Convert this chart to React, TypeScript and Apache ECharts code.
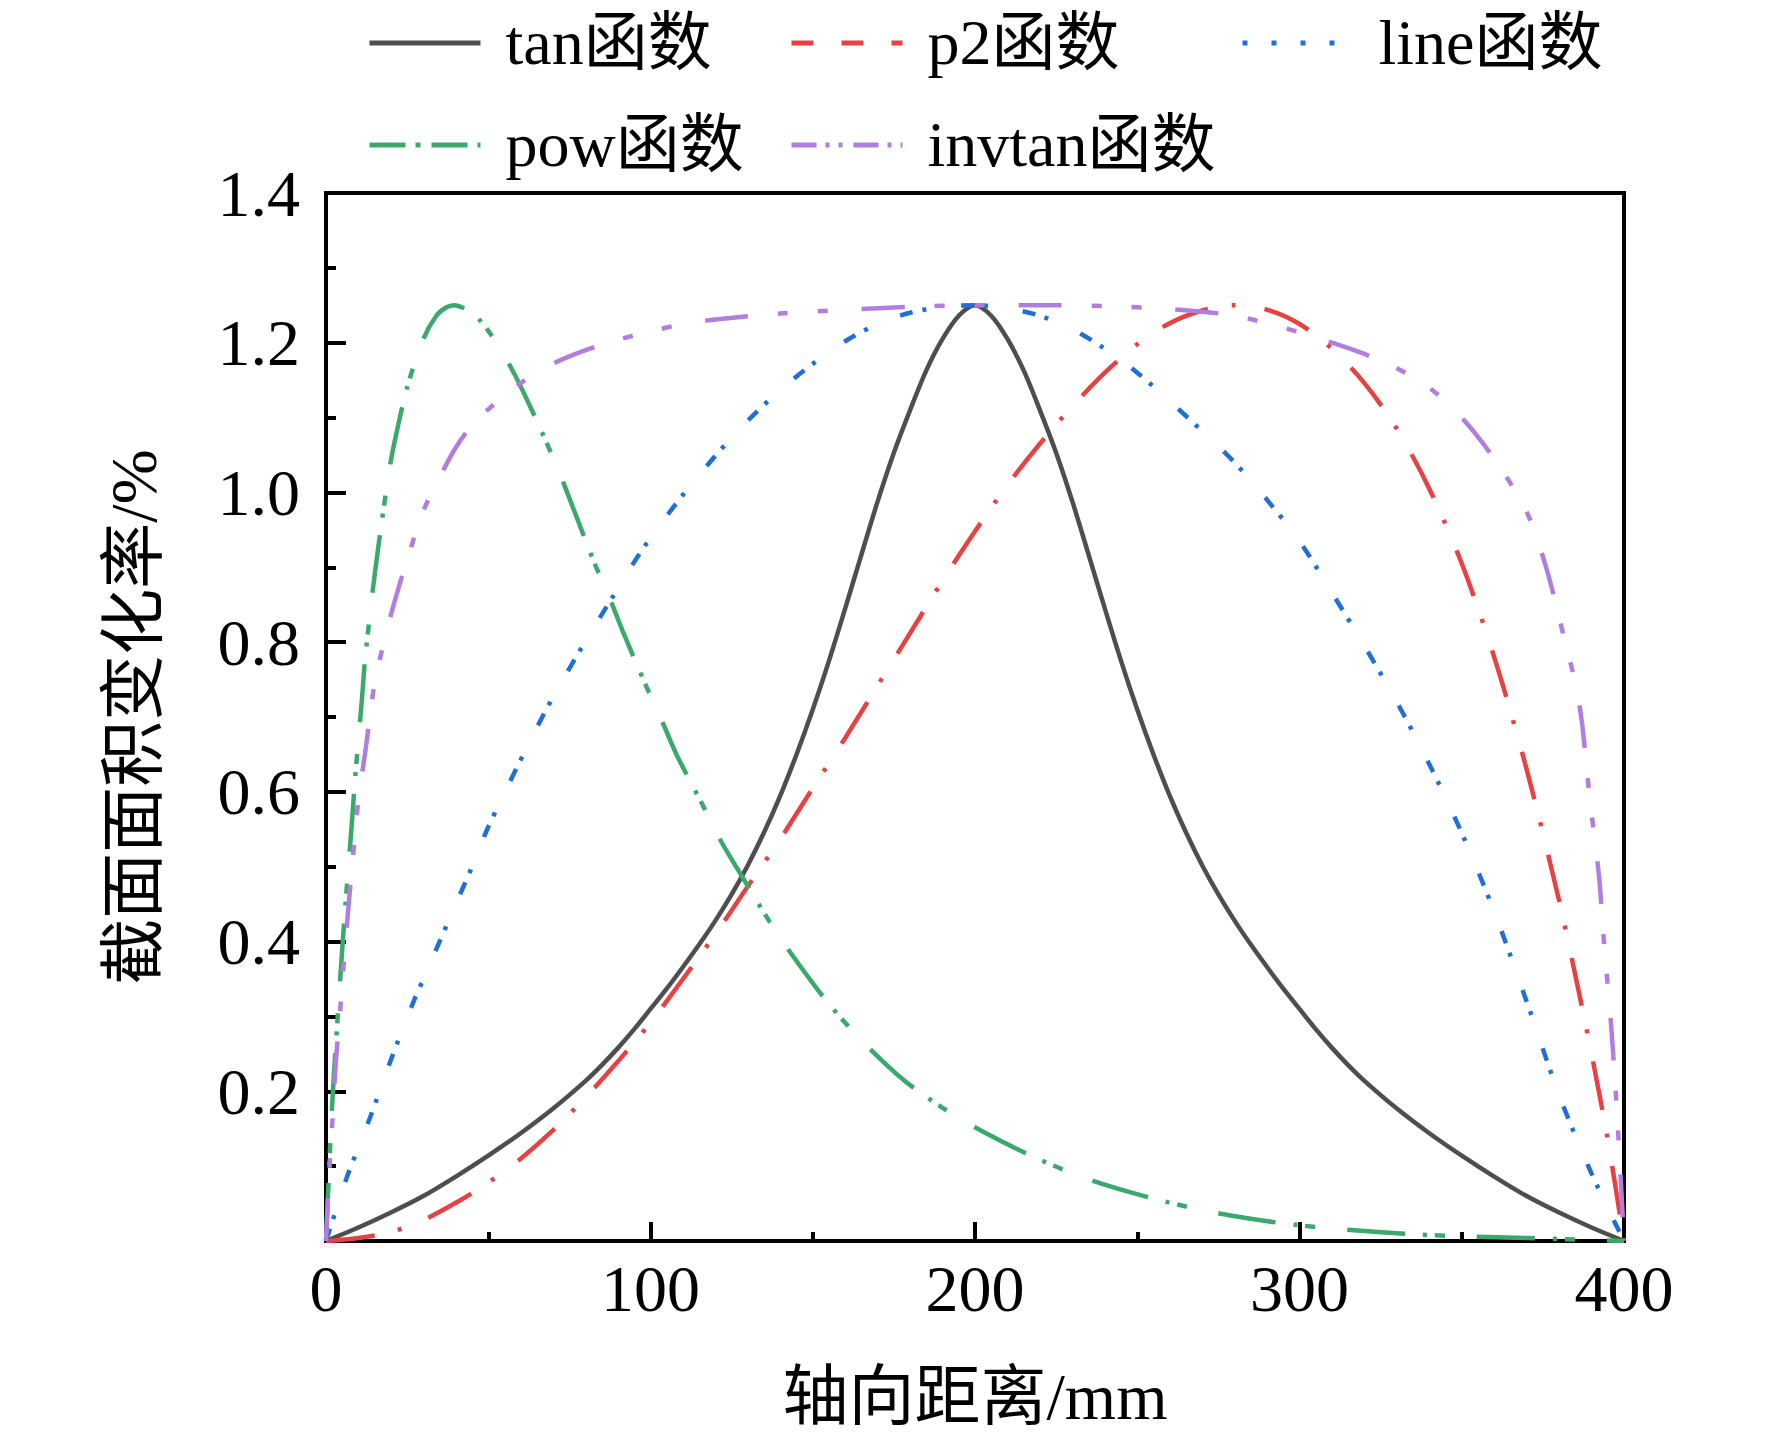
import React, { useEffect, useRef } from "react";
import * as echarts from "echarts";

const seriesNames = ["tan函数", "p2函数", "line函数", "pow函数", "invtan函数"];
const seriesColors = ["#4e4e4e", "#e84141", "#1f6fd6", "#3aa96b", "#b17ddf"];

const xTicks = [0, 100, 200, 300, 400];
const yTicks = [0, 0.2, 0.4, 0.6, 0.8, 1.0, 1.2, 1.4];

const tanData: [number, number][] = [
  [0, 0], [10, 0.018], [20, 0.038], [30, 0.06], [40, 0.086], [50, 0.114], [60, 0.144], [70, 0.177],
  [80, 0.214], [85, 0.235], [90, 0.258], [95, 0.283], [100, 0.31], [105, 0.337], [110, 0.366],
  [115, 0.396], [120, 0.428], [125, 0.463], [130, 0.502], [135, 0.546], [140, 0.595], [145, 0.65],
  [150, 0.71], [155, 0.775], [160, 0.845], [165, 0.917], [170, 0.988], [175, 1.053], [180, 1.11],
  [185, 1.163], [190, 1.205], [195, 1.236], [200, 1.25], [205, 1.236], [210, 1.205], [215, 1.163],
  [220, 1.11], [225, 1.053], [230, 0.988], [235, 0.917], [240, 0.845], [245, 0.775], [250, 0.71],
  [255, 0.65], [260, 0.595], [265, 0.546], [270, 0.502], [275, 0.463], [280, 0.428], [285, 0.396],
  [290, 0.366], [295, 0.337], [300, 0.31], [305, 0.283], [310, 0.258], [315, 0.235], [320, 0.214],
  [330, 0.177], [340, 0.144], [350, 0.114], [360, 0.086], [370, 0.06], [380, 0.038], [390, 0.018],
  [400, 0],
];

const p2Data: [number, number][] = [
  [0, 0], [10, 0.004], [20, 0.012], [30, 0.028], [40, 0.051], [50, 0.078], [60, 0.11], [70, 0.148],
  [80, 0.192], [90, 0.24], [100, 0.292], [110, 0.35], [120, 0.41], [130, 0.474], [140, 0.537],
  [150, 0.605], [160, 0.672], [170, 0.742], [180, 0.812], [190, 0.882], [200, 0.948], [210, 1.01],
  [220, 1.065], [230, 1.115], [240, 1.16], [250, 1.198], [260, 1.226], [270, 1.243], [280, 1.25],
  [290, 1.244], [300, 1.225], [310, 1.192], [320, 1.146], [330, 1.085], [340, 1.005], [350, 0.905],
  [360, 0.78], [370, 0.63], [380, 0.455], [385, 0.355], [390, 0.25], [395, 0.135], [400, 0],
];

const lineData: [number, number][] = [
  [0, 0], [3, 0.04], [6.5, 0.086], [10, 0.125], [13.5, 0.164], [20, 0.242], [27, 0.32], [30, 0.35],
  [35, 0.4], [40, 0.45], [45, 0.5], [50, 0.553], [59, 0.634], [68, 0.711], [78, 0.787], [88, 0.858],
  [98, 0.927], [109.5, 0.994], [121, 1.054], [130, 1.096], [140, 1.137], [151, 1.175], [160, 1.202],
  [170, 1.225], [180, 1.24], [190, 1.248], [200, 1.25], [210, 1.246], [220, 1.236], [230, 1.218],
  [240, 1.192], [250, 1.16], [260, 1.122], [270, 1.082], [280, 1.04], [290, 0.99], [300, 0.935],
  [310, 0.866], [320, 0.795], [330, 0.72], [340, 0.637], [350, 0.545], [360, 0.44], [370, 0.32],
  [380, 0.195], [390, 0.09], [400, 0],
];

const powData: [number, number][] = [
  [0, 0], [1, 0.1], [2, 0.19], [3, 0.26], [4, 0.325], [5, 0.39], [6, 0.45], [7, 0.505], [8, 0.56],
  [9, 0.62], [10, 0.67], [11, 0.72], [12, 0.775], [13.5, 0.835], [15, 0.89], [17, 0.955], [19.5, 1.03],
  [21, 1.065], [25, 1.14], [30, 1.205], [34, 1.236], [37, 1.247], [39.5, 1.25], [42, 1.247],
  [44, 1.242], [47, 1.232], [50, 1.216], [54.5, 1.186], [59.5, 1.146], [67, 1.076], [72.5, 1.02],
  [76, 0.981], [82.5, 0.908], [87.5, 0.858], [91.5, 0.814], [98.5, 0.743], [104, 0.69], [108, 0.65],
  [116, 0.583], [122, 0.532], [127.5, 0.492], [136.5, 0.428], [144, 0.38], [154, 0.322], [165, 0.268],
  [178, 0.215], [190, 0.178], [200, 0.152], [212, 0.125], [224, 0.101], [236, 0.081], [248, 0.065],
  [265, 0.046], [283, 0.031], [300, 0.021], [318, 0.014], [335, 0.009], [352, 0.006], [370, 0.004],
  [385, 0.002], [400, 0],
];

const invtanData: [number, number][] = [
  [0, 0], [0.5, 0.046], [1.2, 0.108], [2, 0.162], [3, 0.238], [4.6, 0.32], [5.6, 0.378], [7.2, 0.46],
  [9, 0.545], [10, 0.59], [12, 0.65], [13.5, 0.7], [15, 0.745], [18, 0.803], [21, 0.852], [25, 0.91],
  [30, 0.975], [35, 1.02], [40, 1.06], [45, 1.09], [50, 1.111], [60, 1.146], [70, 1.172], [80, 1.19],
  [90, 1.204], [100, 1.215], [110, 1.225], [120, 1.231], [140, 1.239], [160, 1.244], [180, 1.248],
  [200, 1.25], [220, 1.25], [240, 1.249], [260, 1.245], [280, 1.236], [300, 1.214], [310, 1.2],
  [320, 1.185], [330, 1.166], [340, 1.14], [350, 1.1], [360, 1.045], [370, 0.974], [376, 0.9],
  [382, 0.798], [385, 0.745], [387, 0.694], [389.5, 0.589], [391, 0.536], [392.5, 0.478], [394, 0.39],
  [396, 0.29], [398, 0.16], [400, 0],
];

const allData = [tanData, p2Data, lineData, powData, invtanData];

const FONT = '"Liberation Serif", "Noto Sans CJK SC", serif';

const plotDash: (string | number[])[] = [
  "solid",
  [49, 24, 4, 29],
  [13, 10, 4, 35],
  [58, 18, 4, 8, 10, 32],
  [43, 30, 10, 30, 10, 34],
];
const legendDash: (string | number[])[] = [
  "solid",
  [22, 28],
  [5, 24],
  [36, 10, 5, 11],
  [25, 9, 4, 9, 4, 11],
];
const legendPos = [
  { left: 367, top: 11 },
  { left: 789, top: 11 },
  { left: 1240, top: 11 },
  { left: 367, top: 113 },
  { left: 789, top: 113 },
];

export default function App() {
  const ref = useRef<HTMLDivElement>(null);
  useEffect(() => {
    document.body.style.margin = "0";
    const chart = echarts.init(ref.current!, null, { renderer: "svg" });
    const option: any = {
      animation: false,
      backgroundColor: "#ffffff",
      legend: seriesNames.map((n, i) => ({
        data: [n],
        left: legendPos[i].left,
        top: legendPos[i].top,
        padding: 0,
        itemWidth: 111,
        itemHeight: 20,
        selectedMode: false,
        itemStyle: { color: "rgba(0,0,0,0)", borderWidth: 0 },
        lineStyle: { type: legendDash[i], width: 5, color: seriesColors[i] },
        textStyle: {
          fontSize: 64,
          fontFamily: FONT,
          color: "#000",
          padding: [0, 0, 0, 20],
        },
      })),
      grid: {
        left: 326,
        top: 193,
        width: 1298,
        height: 1048,
        show: true,
        borderColor: "#000",
        borderWidth: 4,
        backgroundColor: "transparent",
      },
      xAxis: {
        type: "value",
        min: xTicks[0],
        max: xTicks[xTicks.length - 1],
        interval: 100,
        name: "轴向距离/mm",
        nameLocation: "middle",
        nameGap: 122,
        nameTextStyle: { fontSize: 66, fontFamily: FONT, color: "#000" },
        axisLine: { show: true, lineStyle: { color: "#000", width: 4 } },
        axisTick: { show: true, inside: true, length: 19, lineStyle: { color: "#000", width: 4 } },
        minorTick: { show: true, splitNumber: 2, length: 9, lineStyle: { color: "#000", width: 4 } },
        splitLine: { show: false },
        axisLabel: { fontSize: 66, fontFamily: FONT, color: "#000", margin: 14 },
      },
      yAxis: {
        type: "value",
        min: yTicks[0],
        max: yTicks[yTicks.length - 1],
        interval: 0.2,
        name: "截面面积变化率/%",
        nameLocation: "middle",
        nameGap: 160,
        nameTextStyle: { fontSize: 66, fontFamily: FONT, color: "#000" },
        axisLine: { show: true, lineStyle: { color: "#000", width: 4 } },
        axisTick: { show: true, inside: true, length: 20, lineStyle: { color: "#000", width: 4 } },
        minorTick: { show: true, splitNumber: 2, length: 10, lineStyle: { color: "#000", width: 4 } },
        splitLine: { show: false },
        axisLabel: {
          fontSize: 66,
          fontFamily: FONT,
          color: "#000",
          margin: 26,
          formatter: (v: number) => (v === 0 ? "" : v.toFixed(1)),
        },
      },
      series: seriesNames.map((n, i) => ({
        name: n,
        type: "line",
        data: allData[i],
        symbol: "none",
        smooth: 0.3,
        lineStyle: { color: seriesColors[i], width: 4.5, type: plotDash[i] },
        itemStyle: { color: seriesColors[i] },
        z: 2 + i,
      })),
    };
    chart.setOption(option);
    return () => chart.dispose();
  }, []);
  return <div ref={ref} style={{ width: 1772, height: 1440 }} />;
}
